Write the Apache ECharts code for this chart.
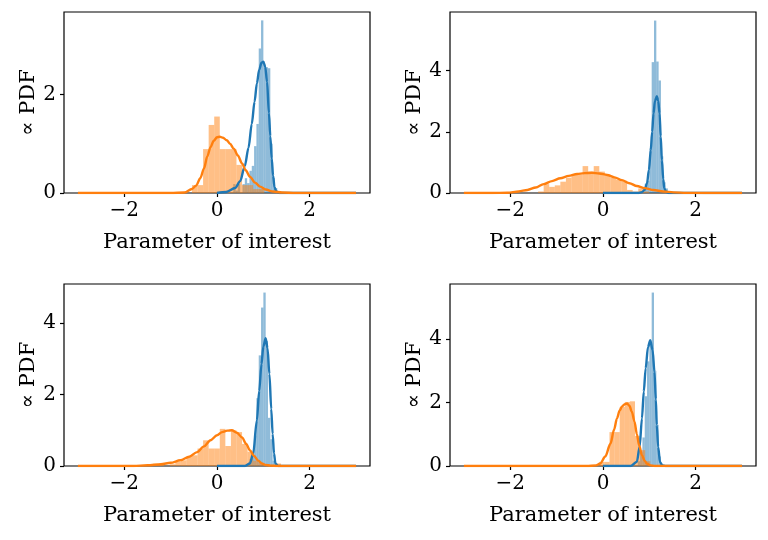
<!DOCTYPE html>
<html>
<head>
<meta charset="utf-8">
<script src="https://cdn.jsdelivr.net/npm/echarts@6/dist/echarts.min.js"></script>
<style>
  html, body { margin: 0; padding: 0; background: #fff; }
  #chart { width: 768px; height: 540px; }
</style>
</head>
<body>
<div id="chart"></div>
<script>
// tick labels
const xTicks = [-2, 0, 2];
const yTicks = [0, 2, 4];
const yMax = [3.67, 5.92, 5.1, 5.74];

// histogram bins (start, width, heights)
const blueStart = [0.35, 0.90, 0.70, 0.75];
const blueWidth = 0.05;
const blueHist1 = [0.18, 0.05, 0.18, 0.0, 0.18, 0.3, 0.2, 0.45, 0.55, 0.95, 1.4, 2.93, 3.5, 2.6, 2.55, 2.53, 1.0, 0.3, 0.1];
const blueHist2 = [0.3, 0.4, 1.45, 4.28, 5.64, 4.3, 3.68, 1.2, 0.35, 0.15];
const blueHist3 = [0.2, 0.3, 0.85, 1.9, 3.1, 4.44, 4.86, 3.5, 1.35, 0.75, 0.15, 0.05];
const blueHist4 = [0.15, 0.45, 0.9, 2.2, 3.3, 3.9, 5.47, 3.0, 1.3, 0.3];

const orangeStart = [-0.54, -1.40, -1.38, -0.08];
const orangeWidth = [0.12, 0.12, 0.12, 0.11];
const orangeHist1 = [0.16, 0.16, 0.89, 1.38, 1.55, 0.89, 0.89, 0.89, 0.57, 0.16, 0.16, 0.08, 0.08];
const orangeHist2 = [0.05, 0.29, 0.2, 0.25, 0.37, 0.5, 0.6, 0.6, 0.88, 0.7, 0.88, 0.7, 0.6, 0.5, 0.44, 0.4, 0.1, 0.05, 0.15, 0.05];
const orangeHist3 = [0.06, 0.05, 0.0, 0.05, 0.12, 0.16, 0.25, 0.3, 0.49, 0.72, 0.49, 0.49, 1.04, 0.56, 1.0, 0.95, 0.62, 0.4, 0.15, 0.08, 0.05, 0.03, 0.07];
const orangeHist4 = [0.13, 0.13, 1.07, 1.07, 1.86, 2.02, 2.04, 0.95, 0.5, 0.15];

// density curves, [x, y] points
const blueCurve1 = [[0, 0], [0.2, 0.02], [0.39, 0.1], [0.5, 0.24], [0.6, 0.55], [0.68, 0.92], [0.75, 1.4], [0.81, 1.85], [0.86, 2.22], [0.91, 2.5], [0.96, 2.64], [1.0, 2.66], [1.04, 2.56], [1.08, 2.25], [1.12, 1.62], [1.15, 1.15], [1.18, 0.7], [1.21, 0.35], [1.24, 0.12], [1.28, 0.03], [1.35, 0], [3, 0]];
const blueCurve2 = [[0, 0], [0.75, 0], [0.84, 0.03], [0.9, 0.1], [0.95, 0.32], [0.99, 0.75], [1.03, 1.4], [1.06, 2.0], [1.09, 2.6], [1.12, 3.0], [1.16, 3.17], [1.19, 3.02], [1.22, 2.6], [1.245, 1.85], [1.27, 1.07], [1.3, 0.45], [1.32, 0.16], [1.36, 0.04], [1.42, 0], [3, 0]];
const blueCurve3 = [[0, 0], [0.6, 0], [0.71, 0.07], [0.78, 0.35], [0.86, 1.28], [0.91, 2.1], [0.96, 2.86], [1.0, 3.35], [1.05, 3.58], [1.09, 3.3], [1.13, 2.58], [1.17, 1.6], [1.2, 0.9], [1.23, 0.35], [1.26, 0.07], [1.32, 0], [3, 0]];
const blueCurve4 = [[0, 0], [0.6, 0], [0.73, 0.13], [0.79, 0.6], [0.84, 1.5], [0.88, 2.35], [0.92, 3.08], [0.97, 3.75], [1.02, 3.97], [1.07, 3.65], [1.11, 2.97], [1.14, 2.1], [1.16, 1.29], [1.19, 0.6], [1.23, 0.12], [1.28, 0.02], [1.35, 0], [3, 0]];

const orangeCurve1 = [[-3, 0], [-1.0, 0], [-0.7, 0.01], [-0.54, 0.08], [-0.45, 0.15], [-0.36, 0.3], [-0.28, 0.5], [-0.21, 0.74], [-0.14, 0.93], [-0.07, 1.06], [0.0, 1.13], [0.06, 1.14], [0.13, 1.12], [0.21, 1.07], [0.28, 1.0], [0.36, 0.9], [0.45, 0.76], [0.54, 0.6], [0.62, 0.46], [0.71, 0.33], [0.82, 0.21], [0.93, 0.13], [1.05, 0.07], [1.21, 0.03], [1.4, 0.01], [1.7, 0], [3, 0]];
const orangeCurve2 = [[-3, 0], [-2.4, 0], [-2.06, 0.01], [-1.82, 0.05], [-1.63, 0.1], [-1.45, 0.18], [-1.28, 0.29], [-1.1, 0.39], [-0.92, 0.48], [-0.74, 0.56], [-0.56, 0.62], [-0.4, 0.65], [-0.24, 0.66], [-0.08, 0.64], [0.09, 0.59], [0.25, 0.51], [0.41, 0.42], [0.57, 0.32], [0.73, 0.23], [0.9, 0.16], [1.09, 0.1], [1.3, 0.05], [1.52, 0.02], [1.8, 0.005], [2.2, 0], [3, 0]];
const orangeCurve3 = [[-3, 0], [-1.8, 0], [-1.5, 0.02], [-1.21, 0.05], [-1.0, 0.09], [-0.79, 0.16], [-0.6, 0.26], [-0.43, 0.39], [-0.28, 0.55], [-0.14, 0.72], [0.0, 0.86], [0.11, 0.95], [0.22, 0.99], [0.32, 1.0], [0.43, 0.93], [0.54, 0.8], [0.63, 0.62], [0.71, 0.44], [0.8, 0.28], [0.89, 0.15], [0.97, 0.07], [1.05, 0.03], [1.15, 0.01], [1.3, 0], [3, 0]];
const orangeCurve4 = [[-3, 0], [-0.35, 0], [-0.15, 0.02], [-0.06, 0.08], [0.05, 0.3], [0.16, 0.7], [0.24, 1.15], [0.3, 1.5], [0.36, 1.75], [0.41, 1.88], [0.47, 1.95], [0.52, 1.97], [0.57, 1.9], [0.62, 1.72], [0.68, 1.4], [0.73, 1.0], [0.78, 0.65], [0.84, 0.34], [0.9, 0.16], [0.95, 0.07], [1.02, 0.02], [1.12, 0], [3, 0]];

const blueHists = [blueHist1, blueHist2, blueHist3, blueHist4];
const orangeHists = [orangeHist1, orangeHist2, orangeHist3, orangeHist4];
const blueCurves = [blueCurve1, blueCurve2, blueCurve3, blueCurve4];
const orangeCurves = [orangeCurve1, orangeCurve2, orangeCurve3, orangeCurve4];

const BLUE = '#1f77b4';
const ORANGE = '#ff7f0e';
const FONT = 'DejaVu Serif';

const grids = [
  { left: 64, top: 12, width: 306, height: 181 },
  { left: 450, top: 12, width: 306, height: 181 },
  { left: 64, top: 284, width: 306, height: 182 },
  { left: 450, top: 284, width: 306, height: 182 },
];

function binsToData(start, width, heights) {
  return heights.map((h, i) => [start + i * width, start + (i + 1) * width, h]);
}

function renderBar(params, api) {
  const p0 = api.coord([api.value(0), api.value(2)]);
  const p1 = api.coord([api.value(1), 0]);
  return {
    type: 'rect',
    shape: { x: p0[0], y: p0[1], width: p1[0] - p0[0], height: p1[1] - p0[1] },
    style: { fill: api.visual('color'), opacity: 0.5 },
  };
}

const fmtMinus = (v) => String(v).replace('-', '\u2212');

const chart = echarts.init(document.getElementById('chart'), null, { renderer: 'canvas' });

const option = {
  animation: false,
  backgroundColor: '#fff',
  textStyle: { fontFamily: FONT },
  grid: grids.map((g) => ({ ...g, show: true, borderColor: '#000', borderWidth: 1.2, backgroundColor: 'transparent' })),
  xAxis: grids.map((g, i) => ({
    type: 'value',
    gridIndex: i,
    min: -3.3,
    max: 3.3,
    name: 'Parameter of interest',
    nameLocation: 'middle',
    nameGap: 39,
    nameTextStyle: { fontFamily: FONT, fontSize: 21, color: '#000' },
    splitLine: { show: false },
    axisLine: { show: false, onZero: false },
    axisTick: { show: true, length: 4, lineStyle: { color: '#000', width: 1.2 }, customValues: xTicks },
    axisLabel: { fontFamily: FONT, fontSize: 20, color: '#000', margin: 8, customValues: xTicks, formatter: fmtMinus },
  })),
  yAxis: grids.map((g, i) => ({
    type: 'value',
    gridIndex: i,
    min: 0,
    max: yMax[i],
    name: '\u221d PDF',
    nameLocation: 'middle',
    nameGap: 25,
    nameRotate: 90,
    nameTextStyle: { fontFamily: FONT, fontSize: 21, color: '#000' },
    splitLine: { show: false },
    axisLine: { show: false, onZero: false },
    axisTick: { show: true, length: 4, lineStyle: { color: '#000', width: 1.2 }, customValues: yTicks.filter((t) => t < yMax[i]) },
    axisLabel: { fontFamily: FONT, fontSize: 20, color: '#000', margin: 8, customValues: yTicks.filter((t) => t < yMax[i]) },
  })),
  series: [],
};

for (let i = 0; i < 4; i++) {
  option.series.push({
    type: 'custom',
    xAxisIndex: i,
    yAxisIndex: i,
    renderItem: renderBar,
    color: BLUE,
    clip: true,
    encode: { x: [0, 1], y: 2 },
    data: binsToData(blueStart[i], blueWidth, blueHists[i]),
  });
  option.series.push({
    type: 'custom',
    xAxisIndex: i,
    yAxisIndex: i,
    renderItem: renderBar,
    color: ORANGE,
    clip: true,
    encode: { x: [0, 1], y: 2 },
    data: binsToData(orangeStart[i], orangeWidth[i], orangeHists[i]),
  });
  option.series.push({
    type: 'line',
    xAxisIndex: i,
    yAxisIndex: i,
    data: blueCurves[i],
    smooth: 0.3,
    smoothMonotone: 'x',
    showSymbol: false,
    lineStyle: { color: BLUE, width: 2.4 },
  });
  option.series.push({
    type: 'line',
    xAxisIndex: i,
    yAxisIndex: i,
    data: orangeCurves[i],
    smooth: 0.3,
    smoothMonotone: 'x',
    showSymbol: false,
    lineStyle: { color: ORANGE, width: 2.4 },
  });
}

chart.setOption(option);
</script>
</body>
</html>
